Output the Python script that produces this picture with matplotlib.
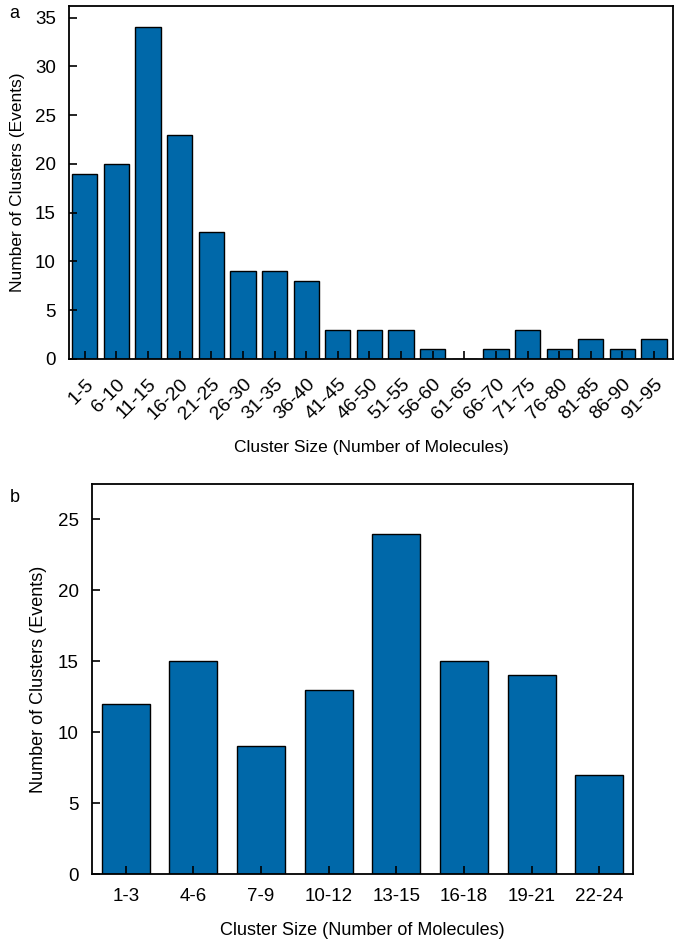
import numpy as np
import matplotlib
matplotlib.use("Agg")
import matplotlib.pyplot as plt

plt.rcParams['font.family'] = ['Liberation Sans', 'DejaVu Sans']

# panel a
bins_a = ["1-5", "6-10", "11-15", "16-20", "21-25", "26-30", "31-35", "36-40",
          "41-45", "46-50", "51-55", "56-60", "61-65", "66-70", "71-75", "76-80",
          "81-85", "86-90", "91-95"]
counts_a = [19, 20, 34, 23, 13, 9, 9, 8, 3, 3, 3, 1, 0, 1, 3, 1, 2, 1, 2]

# panel b
bins_b = ["1-3", "4-6", "7-9", "10-12", "13-15", "16-18", "19-21", "22-24"]
counts_b = [12, 15, 9, 13, 24, 15, 14, 7]

bar_color = "#0068a9"
xlabel = "Cluster Size (Number of Molecules)"
ylabel = "Number of Clusters (Events)"

fig = plt.figure(figsize=(6.85, 9.41), dpi=100)

def style_axes(ax, fs):
    ax.tick_params(direction='in', length=6, width=1.2, labelsize=fs,
                   top=False, right=False, colors='black')
    ax.tick_params(axis='y', pad=9.5)
    for s in ax.spines.values():
        s.set_linewidth(1.3)

# top panel
ax1 = fig.add_axes([0.1007, 0.6185, 0.8818, 0.3751])
x = np.arange(len(bins_a))
ax1.bar(x, counts_a, width=0.8, color=bar_color, edgecolor='black', linewidth=1.0)
ax1.set_xlim(-0.5, len(bins_a) - 0.4)
ax1.set_ylim(0, 36.2)
ax1.set_yticks(np.arange(0, 36, 5))
ax1.set_xticks(x)
ax1.set_xticklabels(bins_a, rotation=45, ha='right', rotation_mode='anchor')
style_axes(ax1, 13.5)
ax1.tick_params(axis='x', labelsize=14, pad=12)
ax1.set_xlabel(xlabel, fontsize=12.5, labelpad=12)
ax1.set_ylabel(ylabel, fontsize=12.5, labelpad=7)
fig.text(0.014, 0.986, "a", fontsize=13, va='center', ha='left')

# bottom panel
ax2 = fig.add_axes([0.1343, 0.0712, 0.7897, 0.4145])
x = np.arange(len(bins_b))
ax2.bar(x, counts_b, width=0.71, color=bar_color, edgecolor='black', linewidth=1.0)
ax2.set_xlim(-0.5, len(bins_b) - 0.5)
ax2.set_ylim(0, 27.5)
ax2.set_yticks(np.arange(0, 26, 5))
ax2.set_xticks(x)
ax2.set_xticklabels(bins_b)
style_axes(ax2, 13.5)
ax2.tick_params(axis='x', pad=10)
ax2.set_xlabel(xlabel, fontsize=13, labelpad=12)
ax2.set_ylabel(ylabel, fontsize=13, labelpad=8)
fig.text(0.014, 0.471, "b", fontsize=13, va='center', ha='left')

fig.savefig("out.png", dpi=100)
